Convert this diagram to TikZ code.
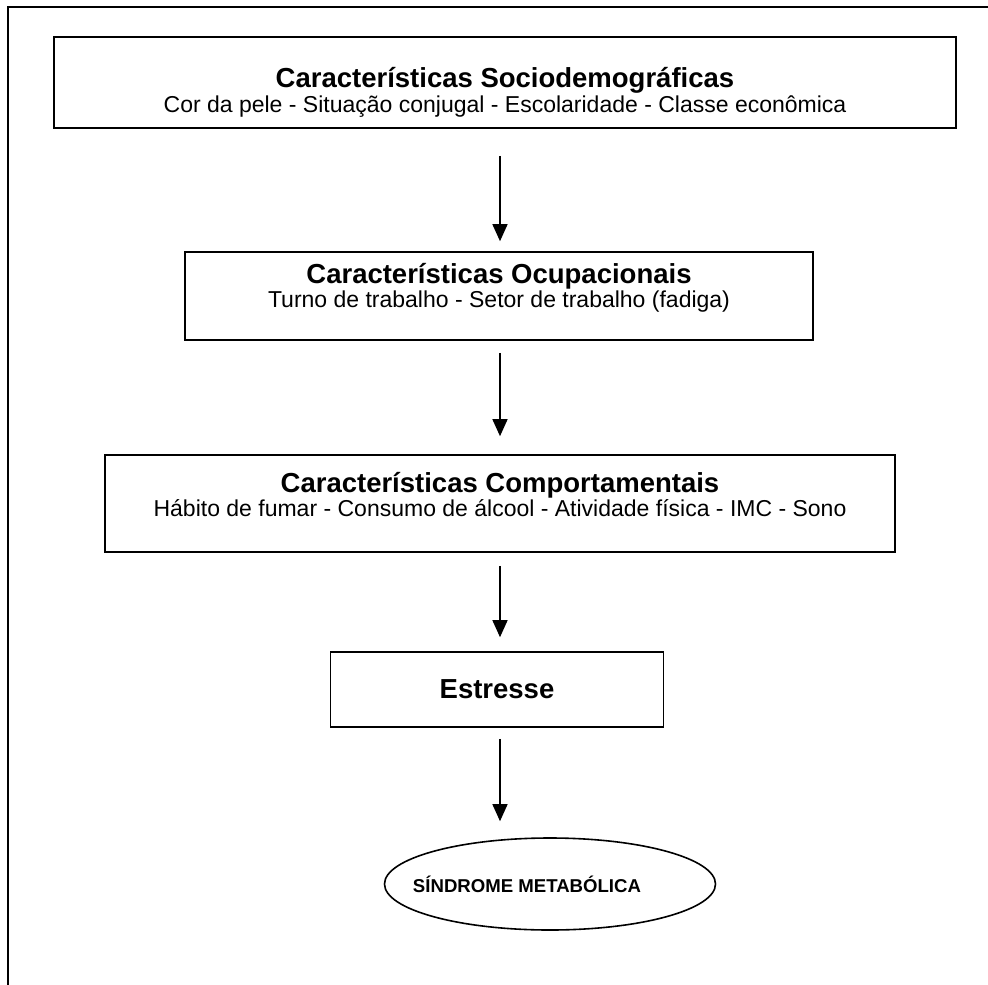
\documentclass[tikz,border=0pt]{standalone}
\usepackage{fontspec}
\setmainfont{Liberation Sans}
\usetikzlibrary{arrows.meta,shapes.geometric}
\newcommand\headfont{\fontsize{27.5}{30}\selectfont\bfseries}
\newcommand\itemfont{\fontsize{23}{28}\selectfont}
\tikzset{
  blockbox/.style={draw, line width=1.6pt, inner sep=0pt},
  blocktext/.style={align=center, inner sep=0pt},
  flow/.style={-{Triangle[length=17pt,width=15pt]}, line width=1.4pt}
}
\begin{document}
\begin{tikzpicture}[x=1pt,y=-1pt]
\useasboundingbox (0,0) rectangle (988,985);
\draw[line width=1.6pt] (8,985) -- (8,7) -- (988,7);
% blocks
\node[blockbox, minimum width=902pt, minimum height=91pt,
  label={[blocktext, yshift=-10pt]center:{\headfont Características Sociodemográficas}\\[1pt]
   {\itemfont Cor da pele - Situação conjugal - Escolaridade - Classe econômica}}] (socio) at (505,82.5) {};
\node[blockbox, minimum width=628pt, minimum height=88pt,
  label={[blocktext, yshift=8.5pt]center:{\headfont Características Ocupacionais}\\[1pt]
   {\itemfont Turno de trabalho - Setor de trabalho (fadiga)}}] (ocup) at (499,296) {};
\node[blockbox, minimum width=790pt, minimum height=97pt,
  label={[blocktext, yshift=9pt]center:{\headfont Características Comportamentais}\\[1pt]
   {\itemfont Hábito de fumar - Consumo de álcool - Atividade física - IMC - Sono}}] (comp) at (500,503.5) {};
\node[blockbox, minimum width=333pt, minimum height=75pt] (stress) at (497,689.5)
  {\headfont Estresse};
\node[ellipse, draw, line width=1.6pt, minimum width=331pt, minimum height=92pt, inner sep=0pt,
  label={[blocktext, xshift=-23pt]center:{\fontsize{18.6}{22}\selectfont\bfseries SÍNDROME METABÓLICA}}] (sm) at (550,884) {};
% arrows
\draw[flow, shorten <=27pt, shorten >=10pt] (socio.south -| comp.center) -- (ocup.north -| comp.center);
\draw[flow, shorten <=12pt, shorten >=18pt] (ocup.south -| comp.center) -- (comp.north -| comp.center);
\draw[flow, shorten <=13pt, shorten >=14pt] (comp.south) -- (stress.north -| comp.center);
\draw[flow, shorten <=11pt, shorten >=16pt] (stress.south -| comp.center) -- (sm.north -| comp.center);
\end{tikzpicture}
\end{document}
